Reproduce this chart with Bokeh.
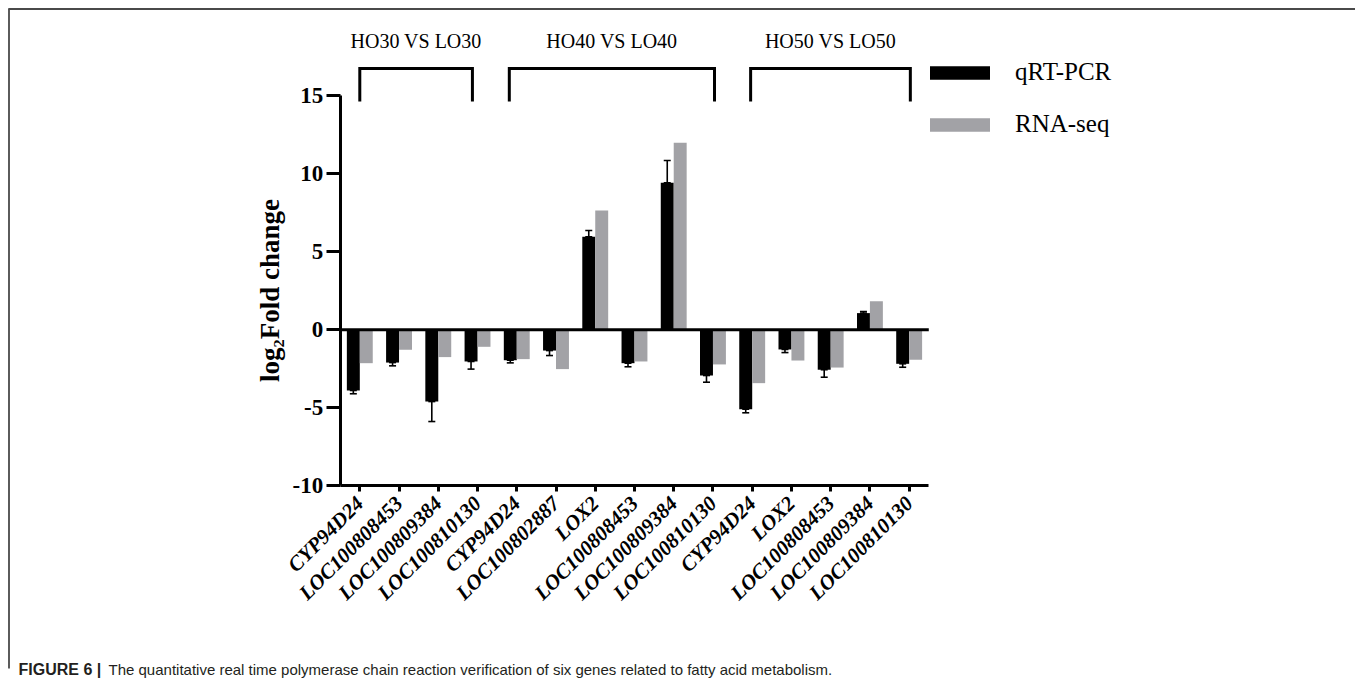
import math
from bokeh.plotting import figure
from bokeh.models import (Range1d, FixedTicker, ColumnDataSource, Whisker, TeeHead,
                          Legend, LegendItem)
from bokeh.core.properties import value
from bokeh.embed import file_html
from bokeh.resources import INLINE

# ---------------- data ----------------
genes = ["CYP94D24", "LOC100808453", "LOC100809384", "LOC100810130",
         "CYP94D24", "LOC100802887", "LOX2", "LOC100808453", "LOC100809384", "LOC100810130",
         "CYP94D24", "LOX2", "LOC100808453", "LOC100809384", "LOC100810130"]
qrt_pcr = [-3.89, -2.10, -4.60, -2.03, -1.95, -1.33, 5.96, -2.14, 9.42, -2.93,
           -5.09, -1.26, -2.56, 1.07, -2.18]
qrt_pcr_sd = [0.21, 0.21, 1.28, 0.49, 0.17, 0.32, 0.41, 0.23, 1.43, 0.43,
              0.23, 0.20, 0.48, 0.10, 0.22]
rna_seq = [-2.14, -1.28, -1.75, -1.09, -1.88, -2.52, 7.65, -2.03, 11.99, -2.22,
           -3.42, -1.97, -2.42, 1.83, -1.92]
group_names = ["HO30 VS LO30", "HO40 VS LO40", "HO50 VS LO50"]
group_first = [0, 4, 10]
group_last = [3, 9, 14]
y_ticks = [-10, -5, 0, 5, 10, 15]
caption_bold = "FIGURE 6 |"
caption_text = "The quantitative real time polymerase chain reaction verification of six genes related to fatty acid metabolism."

# ---------------- layout ----------------
W, H = 1355, 683
PX_X, X0 = 39.24, 359.3     # px per category, canvas x of category 0
PX_Y, Y0 = 15.6, 329.3      # px per unit, canvas y of value 0


def dx(px):
    return (px - X0) / PX_X


def dy(py):
    return (Y0 - py) / PX_Y


SERIF = "Liberation Serif"
SANS = "Liberation Sans"

p = figure(width=W, height=H, output_backend="svg", toolbar_location=None,
           x_range=Range1d(dx(0), dx(W)), y_range=Range1d(dy(H), dy(0)),
           min_border=0, min_border_left=0, min_border_right=0,
           min_border_top=0, min_border_bottom=0)
p.outline_line_color = None
p.xgrid.visible = False
p.ygrid.visible = False
p.background_fill_color = "white"
p.border_fill_color = "white"

n = len(genes)
idx = list(range(n))
bw = 0.33
src = ColumnDataSource(dict(
    xb=[i - bw / 2 for i in idx], xg=[i + bw / 2 for i in idx],
    q=qrt_pcr, r=rna_seq,
    lo=[min(v, v - s if v < 0 else v + s) for v, s in zip(qrt_pcr, qrt_pcr_sd)],
    hi=[max(v, v - s if v < 0 else v + s) for v, s in zip(qrt_pcr, qrt_pcr_sd)],
))

wh = Whisker(source=src, base="xb", lower="lo", upper="hi", dimension="height",
             line_color="black", line_width=1.6,
             upper_head=TeeHead(size=7, line_color="black", line_width=1.6),
             lower_head=TeeHead(size=7, line_color="black", line_width=1.6))
p.add_layout(wh)

rq = p.vbar(x="xb", top="q", bottom=0, width=bw, source=src, fill_color="black", line_color=None)
rr = p.vbar(x="xg", top="r", bottom=0, width=bw, source=src, fill_color="#a2a2a6", line_color=None)

# zero line
p.segment(x0=[-0.5], y0=[0], x1=[n - 0.5], y1=[0], line_color="black", line_width=3)

# axes
xa = p.xaxis[0]
xa.fixed_location = y_ticks[0]
xa.bounds = (-0.5, n - 0.5)
xa.ticker = FixedTicker(ticks=idx)
xa.major_label_overrides = {i: g for i, g in enumerate(genes)}
xa.major_label_orientation = math.pi / 4
xa.major_label_text_font = SERIF
xa.major_label_text_font_style = "bold italic"
xa.major_label_text_font_size = "21px"
xa.major_label_text_color = "black"
xa.major_tick_out = 6
xa.major_tick_in = 0
xa.minor_tick_out = 0
xa.minor_tick_in = 0
xa.major_tick_line_width = 3
xa.axis_line_width = 3
xa.major_label_standoff = 8

ya = p.yaxis[0]
ya.fixed_location = -0.5
ya.bounds = (y_ticks[0], y_ticks[-1])
ya.ticker = FixedTicker(ticks=y_ticks)
ya.major_label_overrides = {t: str(t) for t in y_ticks}
ya.major_label_text_font = SERIF
ya.major_label_text_font_style = "bold"
ya.major_label_text_font_size = "23px"
ya.major_label_text_color = "black"
ya.major_tick_out = 14
ya.major_tick_in = 0
ya.minor_tick_out = 0
ya.minor_tick_in = 0
ya.major_tick_line_width = 3
ya.axis_line_width = 3
ya.major_label_standoff = 3
ya.axis_label = "log\u2082Fold change"
ya.axis_label_text_font = SERIF
ya.axis_label_text_font_style = "bold"
ya.axis_label_text_font_size = "27px"
ya.axis_label_text_color = "black"
ya.axis_label_standoff = 5

# group brackets and labels
pad = [(0.0, -0.13), (-0.19, 0.04), (-0.04, 0.03)]
xs, ys, tx = [], [], []
y_top, y_leg = dy(68), dy(101)
for (a, b), (pa, pb) in zip(zip(group_first, group_last), pad):
    l, r = a + pa, b + pb
    xs.append([l, l, r, r])
    ys.append([y_leg, y_top, y_top, y_leg])
    tx.append((l + r) / 2)
p.multi_line(xs=xs, ys=ys, line_color="black", line_width=3, line_join="miter")
p.text(x=tx, y=[dy(40)] * 3, text=group_names, text_align="center",
       text_baseline="middle", text_font=value(SERIF), text_font_size="20px",
       text_color="black")

# legend
leg = Legend(items=[LegendItem(label="qRT-PCR", renderers=[rq]),
                    LegendItem(label="RNA-seq", renderers=[rr])],
             location=(922, H - 138), orientation="vertical",
             glyph_width=75, glyph_height=17, label_standoff=18, spacing=24,
             padding=0, margin=0, border_line_color=None, background_fill_alpha=0,
             label_text_font=SERIF, label_text_font_size="25px", label_text_color="black")
p.add_layout(leg)

# frame border lines
p.segment(x0=[dx(8.5), dx(8)], y0=[dy(8), dy(8.5)], x1=[dx(8.5), dx(W)], y1=[dy(668), dy(8.5)],
          line_color="#4a4a4a", line_width=1.8)

# caption
p.text(x=[dx(18)], y=[dy(669)], text=[caption_bold], text_font=value(SANS),
       text_font_style="bold", text_font_size="16px", text_baseline="middle",
       text_color="#231f20")
p.text(x=[dx(108)], y=[dy(669)], text=[caption_text], text_font=value(SANS),
       text_font_size="15px", text_baseline="middle", text_color="#231f20")

open("out.html", "w").write(file_html(p, INLINE))
